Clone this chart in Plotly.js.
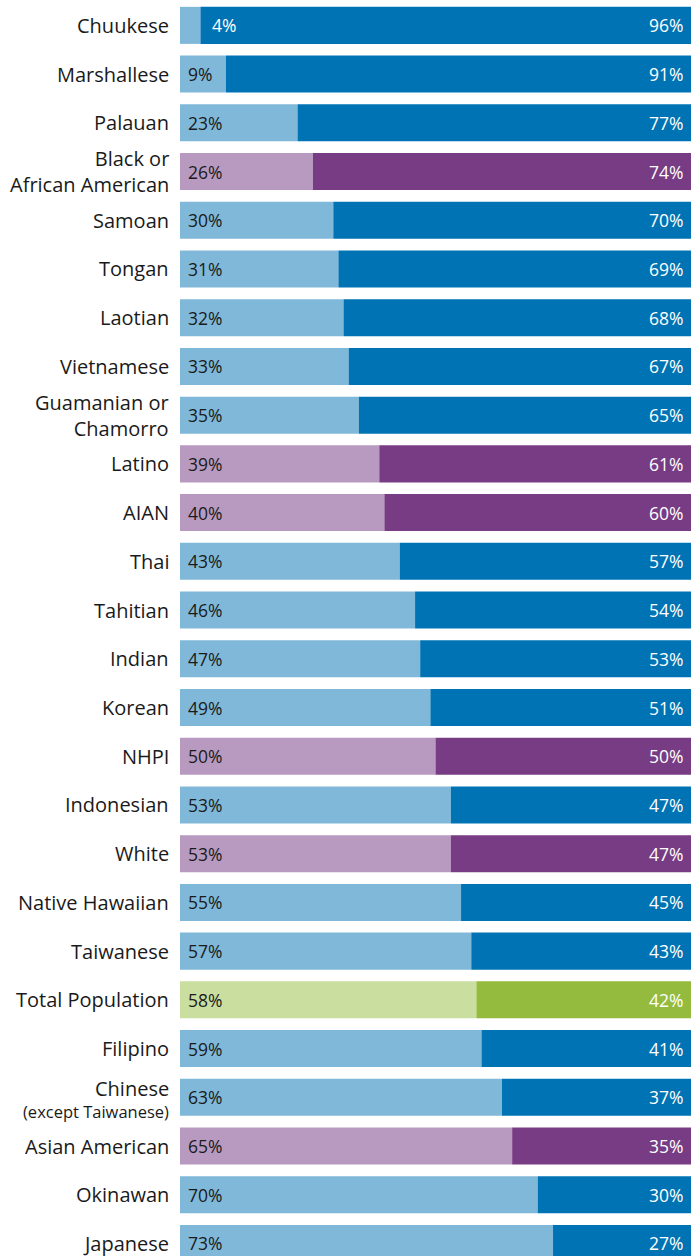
<!DOCTYPE html>
<html><head><meta charset="utf-8">
<script src="https://cdn.plot.ly/plotly-3.0.1.min.js"></script>
<style>html,body{margin:0;padding:0;background:#fff}#chart{width:692px;height:1256px}</style>
</head><body><div id="chart"></div>
<script>
const categories = ["Chuukese","Marshallese","Palauan","Black or<br>African American","Samoan","Tongan","Laotian","Vietnamese","Guamanian or<br>Chamorro","Latino","AIAN","Thai","Tahitian","Indian","Korean","NHPI","Indonesian","White","Native Hawaiian","Taiwanese","Total Population","Filipino","Chinese<br><small>(except Taiwanese)","Asian American","Okinawan","Japanese"];
const leftValues = [4,9,23,26,30,31,32,33,35,39,40,43,46,47,49,50,53,53,55,57,58,59,63,65,70,73];
const rightValues = [96,91,77,74,70,69,68,67,65,61,60,57,54,53,51,50,47,47,45,43,42,41,37,35,30,27];
const groups = ["api","api","api","race","api","api","api","api","api","race","race","api","api","api","api","race","api","race","api","api","total","api","api","race","api","api"];

const palette = {
  api:   {light:"#80b8d9", dark:"#0073b4"},
  race:  {light:"#b89ac1", dark:"#773c83"},
  total: {light:"#c9de9f", dark:"#94bb3d"}
};
const pos = categories.map((c,i)=>i);
const lightColors = groups.map(g=>palette[g].light);
const darkColors = groups.map(g=>palette[g].dark);

const traces = [
  {type:"bar", orientation:"h", y:pos, x:leftValues, width:0.76, marker:{color:lightColors, line:{width:0}}, hoverinfo:"skip"},
  {type:"bar", orientation:"h", y:pos, x:rightValues, base:leftValues, width:0.76, marker:{color:darkColors, line:{width:0}}, hoverinfo:"skip"}
];

const fontFam = "Open Sans, Lato, sans-serif";
const labelColor = "#1a1a1a";
const annotations = [];
categories.forEach((c,i)=>{
  const lines = c.split("<br>");
  const base = {x:0, y:i, xref:"x", yref:"y", showarrow:false, xanchor:"right", xshift:-9};
  if (lines.length === 2 && lines[1].startsWith("<small>")) {
    annotations.push(Object.assign({}, base, {text:lines[0], yshift:9, font:{family:fontFam, size:20, color:labelColor}}));
    annotations.push(Object.assign({}, base, {text:lines[1].replace("<small>",""), yshift:-14, font:{family:fontFam, size:16.5, color:labelColor}}));
  } else {
    annotations.push(Object.assign({}, base, {text:c, align:"right", font:{family:fontFam, size:20, color:labelColor}}));
  }
});
leftValues.forEach((v,i)=>{
  const small = v < 8;
  annotations.push({x: small ? v : 0, y: i, xref:"x", yref:"y", text: v + "%", showarrow:false,
    xanchor:"left", xshift: small ? 10 : 6, font:{family:fontFam, size:17.5, color: small ? "#ffffff" : labelColor}});
  annotations.push({x: 100, y: i, xref:"x", yref:"y", text: rightValues[i] + "%", showarrow:false,
    xanchor:"right", xshift:-6, font:{family:fontFam, size:17.5, color:"#ffffff"}});
});

const layout = {
  width:692, height:1256,
  margin:{l:180, r:1, t:1, b:0},
  paper_bgcolor:"#ffffff", plot_bgcolor:"#ffffff",
  barmode:"overlay",
  showlegend:false,
  xaxis:{range:[0,100], visible:false, fixedrange:true},
  yaxis:{range:[25.257,-0.5], showticklabels:false, ticks:"", showgrid:false, zeroline:false, showline:false, fixedrange:true},
  annotations:annotations,
  font:{family:fontFam}
};
Plotly.newPlot("chart", traces, layout, {staticPlot:true, displayModeBar:false});
</script></body></html>
